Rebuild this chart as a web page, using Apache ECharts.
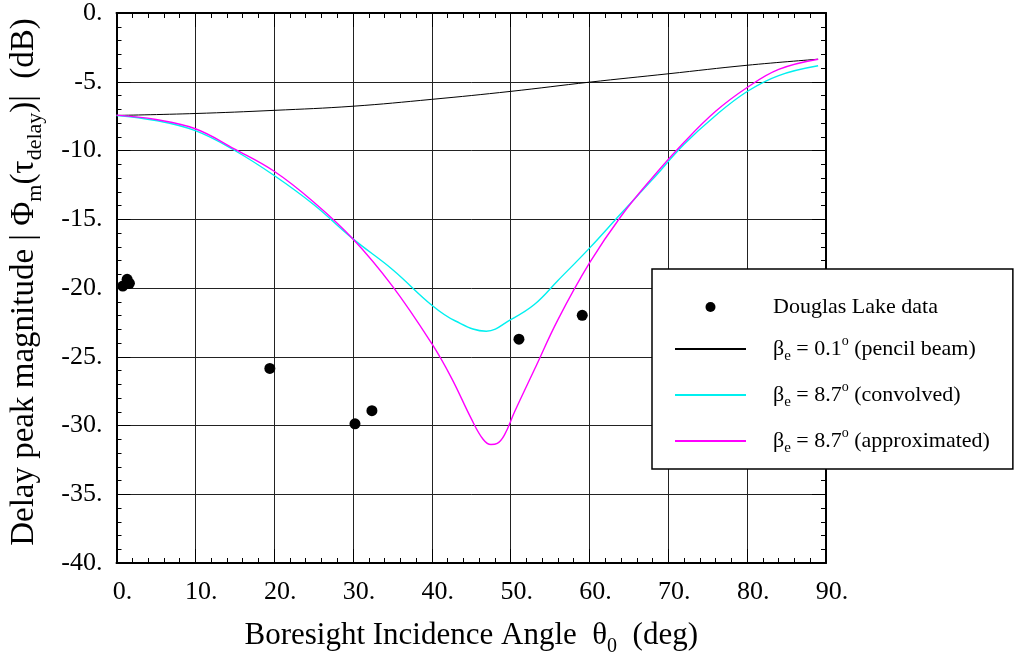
<!DOCTYPE html>
<html>
<head>
<meta charset="utf-8">
<script src="https://cdn.jsdelivr.net/npm/echarts@6/dist/echarts.min.js"></script>
<style>
html,body{margin:0;padding:0;background:#fff;}
#chart{width:1021px;height:662px;}
</style>
</head>
<body>
<div id="chart"></div>
<script>
// ---- data ----
const xTicks = [0, 10, 20, 30, 40, 50, 60, 70, 80, 90];
const yTicks = [-40, -35, -30, -25, -20, -15, -10, -5, 0];

const lakeX = [0.8, 1.35, 1.64, 19.45, 30.25, 32.4, 51.05, 59.08];
const lakeY = [-19.86, -19.37, -19.66, -25.85, -29.88, -28.92, -23.72, -21.99];

const pencilX = [0, 10, 20, 30, 40, 50, 60, 70, 80, 89];
const pencilY = [-7.45, -7.31, -7.08, -6.78, -6.28, -5.7, -5.03, -4.42, -3.8, -3.36];

const convX = [0, 5, 10, 15, 20, 25, 30, 35, 40, 43, 46.9, 50, 53, 56, 60, 64, 68, 72, 76, 80, 84, 89];
const convY = [-7.45, -7.82, -8.56, -10.0, -11.82, -13.93, -16.43, -18.65, -21.25, -22.4, -23.14, -22.3, -21.2, -19.45, -17.1, -14.58, -12.1, -9.55, -7.45, -5.71, -4.55, -3.84];

const apprX = [0, 5, 10, 15, 20, 25, 30, 35, 40, 42.5, 45, 46.5, 47.5, 48.3, 49.2, 50.5, 53, 56, 60, 64, 68, 72, 76, 80, 84, 89];
const apprY = [-7.43, -7.75, -8.42, -9.9, -11.51, -13.74, -16.43, -19.86, -24.05, -26.55, -29.5, -31.0, -31.38, -31.3, -30.7, -29.0, -25.95, -22.3, -18.18, -14.78, -11.96, -9.4, -7.15, -5.42, -4.1, -3.36];

const legendLabels = {
  lake: '{g|}{n|Douglas Lake data}',
  pencil: '{g|}{n|β}{s|e}{n| = 0.1}{p|o}{n| (pencil beam)}',
  conv: '{g|}{n|β}{s|e}{n| = 8.7}{p|o}{n| (convolved)}',
  appr: '{g|}{n|β}{s|e}{n| = 8.7}{p|o}{n| (approximated)}'
};

const zip = (xs, ys) => xs.map((x, i) => [x, ys[i]]);
const FONT = 'Liberation Serif';

const chart = echarts.init(document.getElementById('chart'), null, {renderer: 'canvas'});

const baseAxisX = {
  type: 'value', min: xTicks[0], max: xTicks[xTicks.length - 1], interval: 10,
  axisLine: {show: true, onZero: false, lineStyle: {color: '#000', width: 2}},
  axisTick: {show: true, inside: true, length: 14, lineStyle: {color: '#000', width: 1}},
  minorTick: {show: true, splitNumber: 5, length: 5, lineStyle: {color: '#000', width: 1}}
};
const baseAxisY = {
  type: 'value', min: yTicks[0], max: yTicks[yTicks.length - 1], interval: 5,
  axisLine: {show: true, onZero: false, lineStyle: {color: '#000', width: 2}},
  axisTick: {show: true, inside: true, length: 14, lineStyle: {color: '#000', width: 1}},
  minorTick: {show: true, splitNumber: 5, length: 5, lineStyle: {color: '#000', width: 1}}
};

const option = {
  backgroundColor: '#fff',
  animation: false,
  grid: {left: 112, right: 195, top: 9, bottom: 97},
  xAxis: [
    Object.assign({}, baseAxisX, {
      position: 'bottom',
      splitLine: {show: true, lineStyle: {color: '#222', width: 1}},
      axisLabel: {formatter: v => v + '.', fontFamily: FONT, fontSize: 26, color: '#000', margin: 16, padding: [0, 0, 0, 12]},
      name: '{n|Boresight Incidence Angle  θ}{s|0}{n|  (deg)}',
      nameLocation: 'middle', nameGap: 52,
      nameTextStyle: {
        fontFamily: FONT, fontSize: 31, color: '#000',
        rich: {
          n: {fontFamily: FONT, fontSize: 31, lineHeight: 42, verticalAlign: 'middle', color: '#000'},
          s: {fontFamily: FONT, fontSize: 20, lineHeight: 20, verticalAlign: 'bottom', color: '#000'}
        }
      }
    }),
    Object.assign({}, baseAxisX, {
      position: 'top', axisLabel: {show: false}, splitLine: {show: false}
    })
  ],
  yAxis: [
    Object.assign({}, baseAxisY, {
      position: 'left',
      splitLine: {show: true, lineStyle: {color: '#222', width: 1}},
      axisLabel: {formatter: v => v + '.', fontFamily: FONT, fontSize: 26, color: '#000', margin: 14},
      name: '{n|Delay peak magnitude | Φ}{s|m}{n|(τ}{s|delay}{n|)|  (dB)}',
      nameLocation: 'middle', nameGap: 70, nameRotate: 90,
      nameTextStyle: {
        fontFamily: FONT, fontSize: 33, color: '#000', padding: [0, 0, 0, 12],
        rich: {
          n: {fontFamily: FONT, fontSize: 33, lineHeight: 44, verticalAlign: 'middle', color: '#000'},
          s: {fontFamily: FONT, fontSize: 22, lineHeight: 22, verticalAlign: 'bottom', color: '#000'}
        }
      }
    }),
    Object.assign({}, baseAxisY, {
      position: 'right', axisLabel: {show: false}, splitLine: {show: false}
    })
  ],
  legend: {
    orient: 'vertical', left: 652, top: 269,
    itemWidth: 71, itemHeight: 10, itemGap: 16,
    padding: [27, 23, 13, 22],
    backgroundColor: '#fff', borderColor: '#000', borderWidth: 1.5,
    selectedMode: false,
    data: [
      {name: 'lake', itemStyle: {opacity: 1, color: '#000'}},
      {name: 'pencil', itemStyle: {opacity: 0}},
      {name: 'conv', itemStyle: {opacity: 0}},
      {name: 'appr', itemStyle: {opacity: 0}}
    ],
    formatter: name => legendLabels[name],
    textStyle: {
      fontFamily: FONT, fontSize: 22, color: '#000',
      rich: {
        g: {width: 22, lineHeight: 30},
        n: {fontFamily: FONT, fontSize: 22, lineHeight: 30, verticalAlign: 'middle', color: '#000'},
        s: {fontFamily: FONT, fontSize: 15, lineHeight: 15, verticalAlign: 'bottom', color: '#000'},
        p: {fontFamily: FONT, fontSize: 14, lineHeight: 14, verticalAlign: 'top', color: '#000'}
      }
    }
  },
  series: [
    {
      name: 'pencil', type: 'line', data: zip(pencilX, pencilY),
      symbol: 'none', smooth: 0.4,
      lineStyle: {color: '#000', width: 1}, itemStyle: {color: '#000'}, z: 3
    },
    {
      name: 'conv', type: 'line', data: zip(convX, convY),
      symbol: 'none', smooth: 0.4,
      lineStyle: {color: '#00f0f0', width: 1.4}, itemStyle: {color: '#00f0f0'}, z: 3
    },
    {
      name: 'appr', type: 'line', data: zip(apprX, apprY),
      symbol: 'none', smooth: 0.4,
      lineStyle: {color: '#ff00ff', width: 1.4}, itemStyle: {color: '#ff00ff'}, z: 4
    },
    {
      name: 'lake', type: 'scatter', data: zip(lakeX, lakeY),
      symbol: 'circle', symbolSize: 11,
      itemStyle: {color: '#000', opacity: 1}, z: 5
    }
  ]
};
chart.setOption(option);
</script>
</body>
</html>
